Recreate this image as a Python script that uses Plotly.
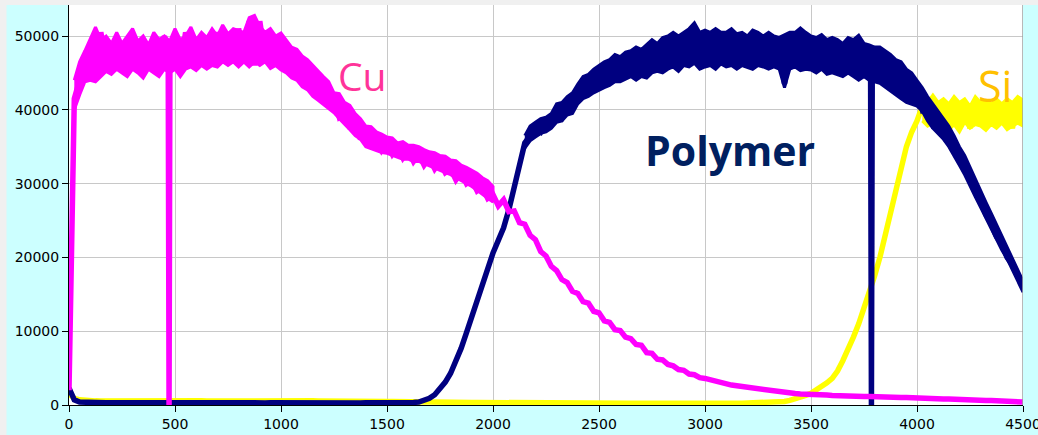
import plotly.graph_objects as go

# x positions (depth / sputter time), shared grid, 25-unit steps
x_grid = list(range(0, 4501, 25))

# Cu signal (magenta), rows of 10 -> x 0..225, 250..475, ...
cu_y = [
    2000, 41500, 44000, 45500, 47500, 46000, 50500, 46500, 48500, 45500,
    49000, 46500, 48000, 45500, 49500, 46000, 49000, 46500, 50000, 47000,
    49500, 46000, 50500, 46500, 49500, 47000, 50000, 46500, 50500, 47500,
    50000, 46500, 51000, 47500, 52000, 46000, 52000, 47000, 50500, 46000,
    49500, 46000, 47500, 44500, 46000, 43500, 44500, 42000, 43000, 40500,
    41500, 39000, 39500, 37500, 38500, 36000, 37000, 35000, 36000, 34500,
    35500, 34000, 35000, 33500, 34500, 33000, 34000, 32500, 33500, 32000,
    33000, 31500, 32000, 30500, 31500, 30000, 30500, 29000, 29500, 28000,
    28500, 27000, 27800, 26200, 26300, 24700, 24500, 23000, 22400, 20800,
    20200, 18800, 18200, 17000, 16600, 15400, 15100, 14000, 13800, 12700,
    12500, 11400, 11200, 10200, 10100, 9200, 9000, 8200, 8100, 7100,
    7000, 6200, 6100, 5500, 5300, 4800, 4700, 4200, 4100, 3700,
    3600, 3400, 3200, 3000, 2900, 2700, 2600, 2500, 2400, 2200,
    2100, 2000, 1900, 1800, 1700, 1650, 1600, 1550, 1500, 1500,
    1450, 1400, 1350, 1350, 1300, 1250, 1250, 1200, 1200, 1150,
    1150, 1150, 1100, 1100, 1100, 1050, 1050, 1000, 1000, 950,
    950, 900, 900, 850, 850, 800, 800, 750, 750, 700,
    700, 650, 650, 600, 600, 550, 500, 500, 450, 450,
    400,
]
cu_spike_x = [468, 472, 476]
cu_spike_y = [47000, 0, 47000]

# Cu noise band (upper / lower edge), x 25..2000
cu_band_x = list(range(25, 2001, 25))
cu_hi = [
    44000, 46500, 48000, 49500, 51200, 49500, 50000, 49000, 50500, 49000,
    50000, 51000, 49300, 50000, 48800, 50500, 49500, 50000, 49300, 51000,
    49500, 50000, 51200, 49500, 50500, 49800, 51000, 50000, 51500, 50300,
    51000, 50800, 50500, 52500, 52800, 51300, 50500, 51000, 50000, 50400,
    49500, 48500, 48200, 47300, 46800, 46000, 45200, 44500, 43800, 42300,
    42200, 41000, 40600, 39500, 38800, 37800, 37700, 37000, 36700, 36300,
    36200, 35500, 35700, 35200, 35200, 35000, 34600, 34300, 34200, 33800,
    33700, 33200, 33100, 32500, 32200, 31800, 31400, 30800, 30400, 29600,
]
cu_lo = [
    40000, 42000, 43800, 44000, 43800, 44500, 45200, 44800, 45500, 45000,
    44500, 45500, 45000, 44300, 45500, 45000, 44500, 45500, 45000, 45500,
    44500, 45500, 45800, 45300, 46000, 45500, 46000, 45800, 46500, 46000,
    46500, 45800, 46500, 45800, 46500, 46000, 46500, 45600, 46000, 45400,
    45000, 44300, 44000, 43100, 42700, 41800, 41300, 40800, 40200, 39600,
    38800, 38000, 37300, 36500, 36000, 35000, 34800, 34500, 34200, 34100,
    33800, 33600, 33300, 33300, 33000, 33000, 32600, 32300, 32000, 31800,
    31500, 31200, 30800, 30500, 30000, 29600, 29100, 28600, 28000, 27500,
]

# Polymer signal (navy)
poly_y = [
    2300, 700, 400, 350, 320, 300, 330, 290, 310, 300,
    320, 290, 300, 310, 280, 300, 320, 290, 300, 310,
    290, 300, 320, 300, 280, 310, 300, 290, 320, 300,
    300, 280, 310, 300, 290, 320, 300, 280, 310, 300,
    290, 300, 310, 280, 300, 300, 290, 310, 300, 280,
    300, 310, 290, 300, 300, 280, 310, 300, 290, 300,
    310, 290, 300, 320, 330, 350, 400, 600, 900, 1400,
    2200, 3100, 4300, 5800, 7700, 9800, 12000, 14200, 16300, 18500,
    20600, 22300, 24000, 26500, 29500, 33000, 35500, 36500, 37500, 37000,
    38500, 38000, 39800, 39000, 41000, 40500, 43000, 42000, 44000, 42500,
    45500, 43500, 46000, 44000, 46500, 44500, 47000, 45000, 47500, 45500,
    48000, 45500, 49000, 46000, 49500, 46500, 50000, 47000, 49500, 46500,
    50000, 47000, 49500, 46500, 50000, 46500, 49500, 47000, 49500, 46000,
    50000, 46500, 49500, 46000, 49000, 43500, 49500, 46000, 49500, 46000,
    49000, 45500, 48500, 45500, 49000, 45000, 48000, 45500, 48000, 45000,
    47500, 45000, 47000, 44500, 46500, 43500, 45500, 42500, 44000, 41500,
    42500, 40000, 40500, 38000, 38500, 36500, 36500, 34500, 34000, 32000,
    31000, 29000, 27800, 25800, 24500, 22800, 21800, 20000, 19000, 17500,
    16000,
]
poly_spike_x = [3781, 3785, 3789]
poly_spike_y = [46500, 0, 46500]

# Polymer noise band, x 2150..4500
poly_band_x = list(range(2150, 4501, 25))
poly_hi = [
    36500, 37800, 38300, 38800, 39000, 39500, 40800, 41000, 41800, 42300,
    43500, 44500, 44800, 45500, 46000, 46500, 46800, 47500, 47200, 47800,
    48000, 48500, 48200, 48800, 49500, 49000, 49800, 50000, 50500, 50000,
    50500, 51000, 51800, 50500, 50800, 50500, 51000, 50500, 50500, 51000,
    50300, 50500, 50000, 50800, 50500, 50000, 50500, 50000, 49800, 50200,
    50500, 50500, 51100, 50500, 50000, 49800, 50200, 49500, 49800, 49500,
    49000, 49800, 49500, 50100, 49000, 48800, 48500, 48500, 48000, 47500,
    46800, 46500, 45500, 45000, 44000, 43000, 41800, 40800, 39800, 38800,
    37800, 36500, 35000, 33800, 32200, 30500, 29000, 27500, 26000, 24500,
    23000, 21500, 20000, 18500, 16800,
]
poly_lo = [
    34800, 35800, 36300, 36800, 37000, 37500, 38300, 38500, 39300, 39500,
    40800, 41500, 41800, 42300, 42700, 43000, 43300, 43800, 43800, 44200,
    44500, 44000, 44500, 44300, 45000, 45200, 45000, 45500, 45800, 45200,
    46000, 45800, 46300, 45500, 45800, 46000, 45500, 46200, 45800, 46000,
    45500, 46000, 45800, 45500, 46000, 45800, 45500, 45800, 45500, 43000,
    45500, 45800, 45300, 45500, 45400, 45000, 45500, 44800, 45000, 44800,
    44500, 45000, 44500, 44000, 44500, 44000, 43800, 43600, 43000, 42500,
    42000, 41500, 41000, 40800, 40500, 39800, 38500, 37500, 36800, 36000,
    35000, 33800, 32500, 31200, 29800, 28200, 26800, 25300, 23800, 22500,
    21000, 19800, 18300, 16800, 15300,
]

# Si signal (yellow)
si_y = [
    1500, 900, 700, 600, 550, 560, 540, 550, 570, 550,
    540, 560, 550, 550, 570, 540, 550, 560, 550, 540,
    560, 550, 540, 570, 550, 560, 540, 550, 560, 550,
    540, 550, 560, 550, 540, 560, 550, 540, 550, 560,
    550, 540, 560, 550, 540, 550, 560, 540, 550, 540,
    550, 560, 540, 550, 530, 540, 520, 530, 500, 510,
    480, 470, 450, 440, 420, 400, 390, 380, 370, 360,
    360, 350, 350, 340, 350, 340, 330, 340, 330, 330,
    330, 320, 330, 320, 310, 320, 310, 300, 310, 300,
    300, 290, 300, 290, 280, 290, 280, 270, 280, 270,
    270, 260, 270, 260, 250, 260, 250, 250, 260, 250,
    250, 240, 250, 240, 250, 240, 230, 240, 230, 240,
    230, 240, 230, 240, 230, 240, 250, 240, 250, 260,
    260, 270, 290, 320, 380, 480, 620, 800, 1050, 1300,
    1600, 2000, 2500, 3000, 3600, 4600, 6000, 7500, 9200, 11000,
    13000, 15200, 17500, 20000, 23000, 26400, 29000, 32000, 35000, 37000,
    38500, 40500, 38500, 41000, 38000, 40500, 38500, 41000, 38000, 40500,
    37500, 41000, 38500, 40500, 38000, 41000, 38500, 40500, 37500, 41000,
    39500,
]

# Si noise band, x 4025..4500
si_band_x = list(range(4025, 4501, 25))
si_hi = [
    41500, 41000, 42000, 41000, 41500, 40800, 41800, 41000, 41500, 40500,
    41800, 41000, 41300, 40800, 41500, 40800, 41500, 41000, 41800, 41300,
]
si_lo = [
    38500, 37800, 38200, 37500, 38000, 37200, 38000, 37000, 38300, 37500,
    38000, 37800, 37200, 38000, 37500, 38200, 37300, 37800, 38200, 37800,
]

assert len(cu_y) == len(x_grid) == len(poly_y) == len(si_y)
assert len(cu_hi) == len(cu_lo) == len(cu_band_x)
assert len(poly_hi) == len(poly_lo) == len(poly_band_x)
assert len(si_hi) == len(si_lo) == len(si_band_x)

# labels
label_text = ["Cu", "Polymer", "Si"]
label_x = [1382, 3118, 4368]
label_y = [44700, 34600, 43300]

x_ticks = list(range(0, 4501, 500))
y_ticks = list(range(0, 50001, 10000))


def merged(xs, ys, sx, sy):
    pts = sorted(list(zip(xs, ys)) + list(zip(sx, sy)), key=lambda p: p[0])
    return [p[0] for p in pts], [p[1] for p in pts]


cu_x_all, cu_y_all = merged(x_grid, cu_y, cu_spike_x, cu_spike_y)
poly_x_all, poly_y_all = merged(x_grid, poly_y, poly_spike_x, poly_spike_y)

fig = go.Figure()
LW = 5.5


def add_band(bx, hi, lo, color):
    fig.add_trace(go.Scatter(x=bx + bx[::-1], y=hi + lo[::-1], mode="lines",
                             fill="toself", fillcolor=color,
                             line=dict(color=color, width=3),
                             hoverinfo="skip", showlegend=False))


add_band(si_band_x, si_hi, si_lo, "#FFFF00")
fig.add_trace(go.Scatter(x=x_grid, y=si_y, mode="lines", name="Si",
                         line=dict(color="#FFFF00", width=LW)))
add_band(poly_band_x, poly_hi, poly_lo, "#000080")
fig.add_trace(go.Scatter(x=poly_x_all, y=poly_y_all, mode="lines", name="Polymer",
                         line=dict(color="#000080", width=LW)))
add_band(cu_band_x, cu_hi, cu_lo, "#FF00FF")
fig.add_trace(go.Scatter(x=cu_x_all, y=cu_y_all, mode="lines", name="Cu",
                         line=dict(color="#FF00FF", width=LW)))

label_styles = [
    dict(color="#FF3399", size=39, family="Open Sans"),
    dict(color="#002060", size=41, family="Open Sans"),
    dict(color="#FFC000", size=43, family="Open Sans"),
]
for t, lx, ly, st in zip(label_text, label_x, label_y, label_styles):
    txt = "<b>%s</b>" % t if t == "Polymer" else t
    fig.add_annotation(x=lx, y=ly, text=txt, showarrow=False, font=st,
                       xanchor="center", yanchor="middle")

fig.update_layout(
    width=1038, height=435,
    margin=dict(l=69, r=15, t=5, b=30, autoexpand=False),
    paper_bgcolor="#CCFFFF",
    plot_bgcolor="#FFFFFF",
    showlegend=False,
    font=dict(family="DejaVu Sans", size=14, color="#000000"),
    shapes=[
        dict(type="rect", xref="paper", yref="paper", x0=-0.08, x1=1.03, y0=1.0, y1=1.02,
             fillcolor="#F0F0F0", line=dict(width=0), layer="below"),
        dict(type="rect", xref="paper", yref="paper", x0=-0.08, x1=-0.0655, y0=-0.1, y1=1.02,
             fillcolor="#F0F0F0", line=dict(width=0), layer="below"),
        dict(type="line", xref="x", yref="paper", x0=4500, x1=4500, y0=0, y1=1,
             line=dict(color="#A0A0A0", width=1.5)),
    ],
)
fig.update_xaxes(range=[0, 4500], tickvals=x_ticks, ticktext=[str(v) for v in x_ticks],
                 showgrid=True, gridcolor="#C8C8C8", gridwidth=1,
                 showline=True, linecolor="#000000", linewidth=1,
                 ticks="outside", ticklen=6, tickcolor="#000000",
                 ticklabeloverflow="allow", automargin=False, zeroline=False)
fig.update_yaxes(range=[0, 54200], tickvals=y_ticks, ticktext=[str(v) for v in y_ticks],
                 showgrid=True, gridcolor="#C8C8C8", gridwidth=1,
                 showline=True, linecolor="#000000", linewidth=1,
                 ticks="outside", ticklen=6, tickcolor="#000000",
                 automargin=False, zeroline=False)

fig.write_html("out.html", config={"displayModeBar": False},
               post_script="document.body.style.margin='0';document.body.style.overflow='hidden';")
